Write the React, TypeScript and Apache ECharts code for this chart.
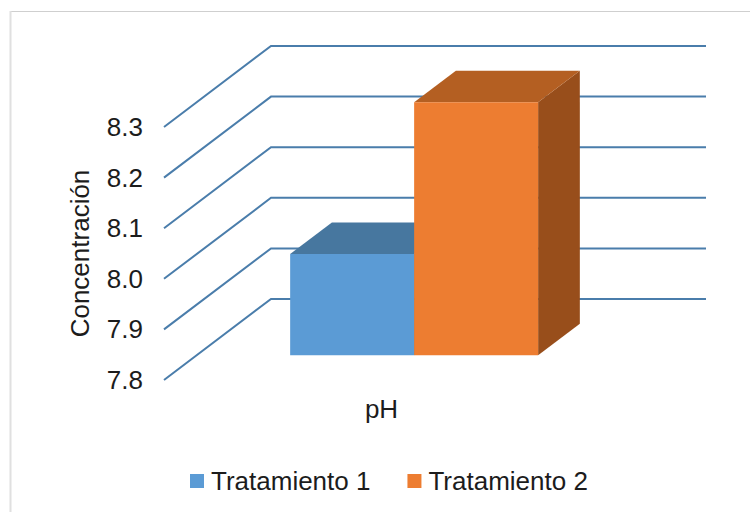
import React, { useEffect, useRef } from "react";
import * as echarts from "echarts";

const categories = ["pH"];
const tratamiento1 = [8.0];
const tratamiento2 = [8.3];
const seriesNames = ["Tratamiento 1", "Tratamiento 2"];
const gridTicks = [7.8, 7.9, 8.0, 8.1, 8.2, 8.3];

const FONT = '"Liberation Sans", Arial, sans-serif';
const TEXT = "#1c1c1c";
const DX = 107;
const DY = 81;
const BAR_W = 0.285;
const FRONT = 0.305;
const BACK = 0.695;

function bar3d(slot: number, front: string, top: string, side: string) {
  return (params: any, api: any) => {
    const band = api.size([1, 0])[0];
    const w = band * BAR_W;
    const c = api.coord([api.value(0), api.value(1)]);
    const b = api.coord([api.value(0), gridTicks[0]]);
    const x0 = c[0] + DX * FRONT + slot * w;
    const x1 = x0 + w;
    const yT = c[1] - DY * FRONT;
    const yB = b[1] - DY * FRONT;
    const dx = DX * (BACK - FRONT);
    const dy = DY * (BACK - FRONT);
    return {
      type: "group",
      children: [
        { type: "polygon", shape: { points: [[x1, yT], [x1 + dx, yT - dy], [x1 + dx, yB - dy], [x1, yB]] }, style: { fill: side } },
        { type: "polygon", shape: { points: [[x0, yT], [x0 + dx, yT - dy], [x1 + dx, yT - dy], [x1, yT]] }, style: { fill: top } },
        { type: "rect", shape: { x: x0, y: yT, width: w, height: yB - yT }, style: { fill: front } },
      ],
    };
  };
}

export default function App() {
  const ref = useRef<HTMLDivElement>(null);
  useEffect(() => {
    const chart = echarts.init(ref.current!, undefined, { renderer: "svg" });
    chart.setOption({
      animation: false,
      backgroundColor: "#ffffff",
      grid: { left: 164, top: 127, width: 435, height: 253 },
      xAxis: {
        type: "category",
        data: categories,
        axisLine: { show: false },
        axisTick: { show: false },
        axisLabel: { color: TEXT, fontFamily: FONT, fontSize: 26, margin: 16 },
      },
      yAxis: {
        type: "value",
        min: 7.8,
        max: 8.3,
        interval: 0.1,
        name: "Concentración",
        nameLocation: "middle",
        nameGap: 71,
        nameRotate: 90,
        nameTextStyle: { color: TEXT, fontFamily: FONT, fontSize: 26 },
        axisLine: { show: false },
        axisTick: { show: false },
        splitLine: { show: false },
        axisLabel: {
          color: TEXT,
          fontFamily: FONT,
          fontSize: 26,
          margin: 21,
          formatter: (v: number) => v.toFixed(1),
        },
      },
      legend: {
        data: seriesNames,
        left: 185,
        top: 463,
        icon: "rect",
        itemWidth: 14,
        itemHeight: 14,
        itemGap: 37,
        textStyle: { color: TEXT, fontFamily: FONT, fontSize: 26, padding: [0, 0, 0, 2] },
      },
      graphic: [
        { type: "line", shape: { x1: 10, y1: 11.5, x2: 750, y2: 11.5 }, style: { stroke: "#cfcfcf", lineWidth: 1 }, silent: true },
        { type: "line", shape: { x1: 10.5, y1: 11, x2: 10.5, y2: 512 }, style: { stroke: "#e0e0e0", lineWidth: 2 }, silent: true },
      ],
      series: [
        {
          type: "custom",
          name: "grid",
          z: 1,
          silent: true,
          data: gridTicks.map((t) => [0, t]),
          renderItem: (params: any, api: any) => {
            const c = api.coord([api.value(0), api.value(1)]);
            const band = api.size([1, 0])[0];
            const x = c[0] - band / 2;
            return {
              type: "polyline",
              shape: { points: [[x, c[1]], [x + DX, c[1] - DY], [x + DX + band, c[1] - DY]] },
              style: { stroke: "#4a7dab", lineWidth: 2, fill: "none" },
            };
          },
        },
        {
          type: "custom",
          name: seriesNames[0],
          z: 2,
          itemStyle: { color: "#5b9bd5" },
          data: tratamiento1.map((v, i) => [i, v]),
          renderItem: bar3d(-1, "#5b9bd5", "#47779f", "#3f6d96"),
        },
        {
          type: "custom",
          name: seriesNames[1],
          z: 3,
          itemStyle: { color: "#ed7d31" },
          data: tratamiento2.map((v, i) => [i, v]),
          renderItem: bar3d(0, "#ed7d31", "#b45f22", "#984e1b"),
        },
      ],
    });
    return () => chart.dispose();
  }, []);
  return <div ref={ref} style={{ position: "absolute", left: 0, top: 0, width: 750, height: 512 }} />;
}
